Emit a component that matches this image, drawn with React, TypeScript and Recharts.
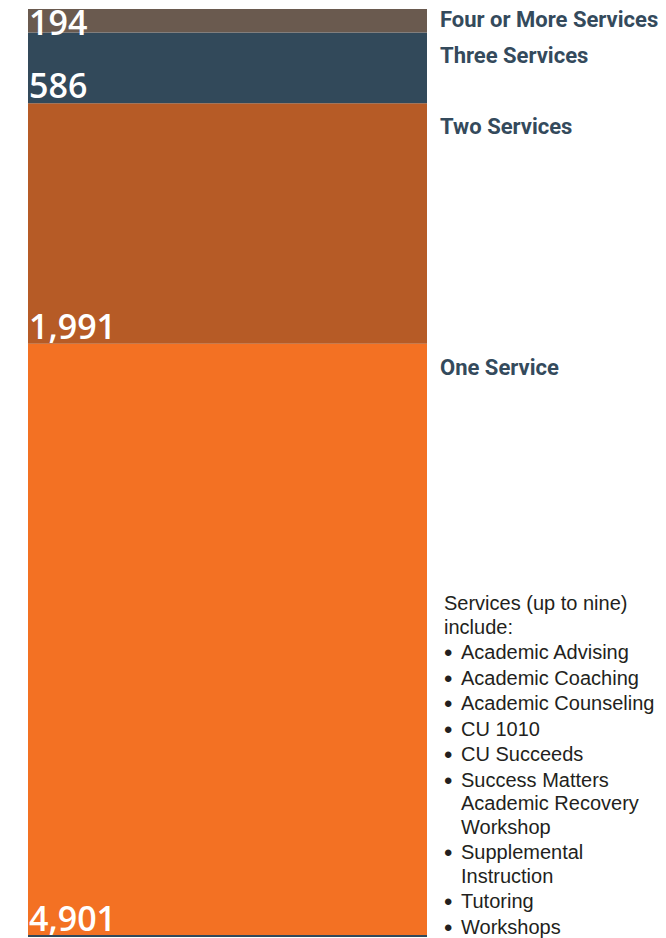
import { BarChart, Bar, XAxis, YAxis, LabelList } from 'recharts';

const categories = ['One Service', 'Two Services', 'Three Services', 'Four or More Services'];
const keys = ['one', 'two', 'three', 'four'];
const values = [4901, 1991, 586, 194];
const colors = ['#f37123', '#b65b26', '#32495a', '#6a5a4f'];

const introLines = ['Services (up to nine)', 'include:'];
const services = [
  'Academic Advising',
  'Academic Coaching',
  'Academic Counseling',
  'CU 1010',
  'CU Succeeds',
  'Success Matters\nAcademic Recovery\nWorkshop',
  'Supplemental\nInstruction',
  'Tutoring',
  'Workshops',
];

const row: Record<string, string | number> = { name: 'Students' };
keys.forEach((k, i) => { row[k] = values[i]; });
const data = [row];

const fmt = (v: number) => v.toLocaleString('en-US');

function segmentLabel(category: string) {
  return (props: any) => {
    const x = Number(props.x), y = Number(props.y);
    const w = Number(props.width), h = Number(props.height);
    const base = Math.max(y + h - 5, y + 26);
    const catBase = y + Math.min(31, h * 0.75);
    return (
      <g>
        <text x={x + 1} y={base} fill="#fff" fontSize={34} fontWeight={600}
          fontFamily="'Open Sans', sans-serif">{fmt(Number(props.value))}</text>
        <text x={x + w + 13} y={catBase} fill="#344a5c" fontSize={22} fontWeight={700}
          fontFamily="Roboto, sans-serif">
          {category}
        </text>
      </g>
    );
  };
}

export default function App() {
  return (
    <div style={{ position: 'absolute', left: 0, top: 0, width: 666, height: 938, background: '#fff' }}>
      <BarChart width={666} height={938} data={data} barCategoryGap={0}
        margin={{ top: 9, right: 239, bottom: 0, left: 28 }}>
        <XAxis dataKey="name" height={2} tick={false} tickLine={false}
          axisLine={{ stroke: '#32495a', strokeWidth: 2 }} />
        <YAxis hide domain={[0, 'dataMax']} />
        {keys.map((k, i) => (
          <Bar key={k} dataKey={k} stackId="s" fill={colors[i]} isAnimationActive={false}>
            <LabelList dataKey={k} content={segmentLabel(categories[i])} />
          </Bar>
        ))}
      </BarChart>
      <div style={{ position: 'absolute', left: 444, top: 591, width: 222,
        fontFamily: "'Liberation Sans', Arial, sans-serif", fontSize: 20, color: '#231f20' }}>
        {introLines.map((l) => (
          <div key={l} style={{ lineHeight: '24px' }}>{l}</div>
        ))}
        {services.map((s) => (
          <div key={s} style={{ display: 'flex', marginTop: 2, lineHeight: '23.5px' }}>
            <span style={{ width: 17, flex: 'none', fontSize: 24, lineHeight: '23.5px' }}>•</span>
            <span style={{ whiteSpace: 'pre-line' }}>{s}</span>
          </div>
        ))}
      </div>
    </div>
  );
}
